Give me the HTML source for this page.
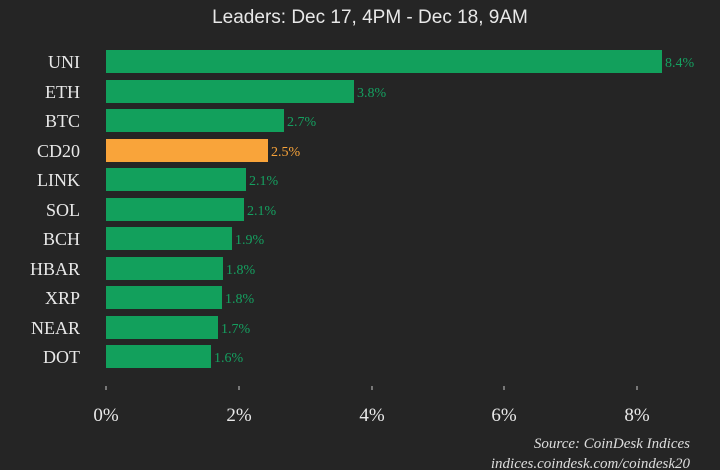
<!DOCTYPE html>
<html><head><style>
html,body{margin:0;padding:0;background:#252525;}
svg{display:block;}
</style></head><body>
<svg width="720" height="470" viewBox="0 0 720 470" xmlns="http://www.w3.org/2000/svg">
<rect width="720" height="470" fill="#252525"/>
<text x="370" y="-4" text-anchor="middle" font-family="Liberation Sans, sans-serif" font-size="20" fill="#e8e8e8">Top Performers (24h)</text>
<text x="370" y="23" text-anchor="middle" font-family="Liberation Sans, sans-serif" font-size="19" fill="#e8e8e8">Leaders: Dec 17, 4PM - Dec 18, 9AM</text>
<g font-family="Liberation Serif, serif">
<g font-size="18" fill="#e8e8e8" text-anchor="end">
<text x="80" y="68">UNI</text>
<text x="80" y="98">ETH</text>
<text x="80" y="127">BTC</text>
<text x="80" y="157">CD20</text>
<text x="80" y="186">LINK</text>
<text x="80" y="216">SOL</text>
<text x="80" y="245">BCH</text>
<text x="80" y="275">HBAR</text>
<text x="80" y="304">XRP</text>
<text x="80" y="334">NEAR</text>
<text x="80" y="363">DOT</text>
</g>
<g fill="#12a05c">
<rect x="106" y="50" width="556" height="23"/>
<rect x="106" y="80" width="248" height="23"/>
<rect x="106" y="109" width="178" height="23"/>
<rect x="106" y="139" width="162" height="23" fill="#f9a43a"/>
<rect x="106" y="168" width="140" height="23"/>
<rect x="106" y="198" width="138" height="23"/>
<rect x="106" y="227" width="126" height="23"/>
<rect x="106" y="257" width="117" height="23"/>
<rect x="106" y="286" width="116" height="23"/>
<rect x="106" y="316" width="112" height="23"/>
<rect x="106" y="345" width="105" height="23"/>
</g>
<g font-size="14" fill="#15a060">
<text x="665" y="67">8.4%</text>
<text x="357" y="97">3.8%</text>
<text x="287" y="126">2.7%</text>
<text x="271" y="156" fill="#f9a43a">2.5%</text>
<text x="249" y="185">2.1%</text>
<text x="247" y="215">2.1%</text>
<text x="235" y="244">1.9%</text>
<text x="226" y="274">1.8%</text>
<text x="225" y="303">1.8%</text>
<text x="221" y="333">1.7%</text>
<text x="214" y="362">1.6%</text>
</g>
<g stroke="#cccccc" stroke-width="1">
<line x1="106" y1="386" x2="106" y2="390"/>
<line x1="239" y1="386" x2="239" y2="390"/>
<line x1="372" y1="386" x2="372" y2="390"/>
<line x1="504" y1="386" x2="504" y2="390"/>
<line x1="637" y1="386" x2="637" y2="390"/>
</g>
<g font-size="19" fill="#e8e8e8" text-anchor="middle">
<text x="106" y="421">0%</text>
<text x="239" y="421">2%</text>
<text x="372" y="421">4%</text>
<text x="504" y="421">6%</text>
<text x="637" y="421">8%</text>
</g>
<g font-size="15" font-style="italic" fill="#dddddd" text-anchor="end">
<text x="690" y="448">Source: CoinDesk Indices</text>
<text x="690" y="468">indices.coindesk.com/coindesk20</text>
</g>
</g>
</svg>
</body></html>
